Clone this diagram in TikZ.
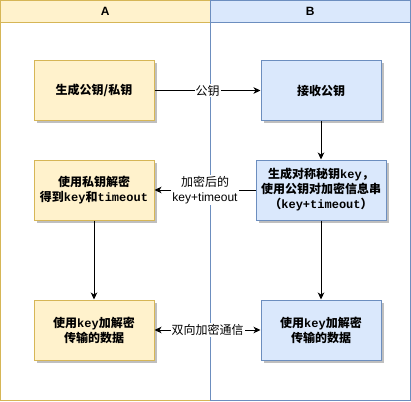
\documentclass[tikz,border=0pt]{standalone}
\usepackage{fontspec}
\setmainfont{Liberation Sans}
\setmonofont{Liberation Mono}
\newfontfamily\cjk{Noto Sans CJK SC}
\usetikzlibrary{arrows.meta,shadows}
\definecolor{yellowfill}{HTML}{FFF2CC}
\definecolor{yellowline}{HTML}{D6B656}
\definecolor{bluefill}{HTML}{DAE8FC}
\definecolor{blueline}{HTML}{6C8EBF}
\newcommand{\kw}[1]{{\ttfamily\bfseries #1}}

\begin{document}
\begin{tikzpicture}[x=1pt,y=-1pt,line width=1pt,
  font=\fontsize{12}{15}\selectfont,
  lanehead/.style={draw,minimum width=209.5pt,minimum height=22.5pt,inner sep=0pt,font=\fontsize{12}{15}\selectfont\bfseries},
  boxbase/.style={minimum width=120pt,minimum height=60pt,align=center,inner sep=2pt,
    font=\cjk\bfseries\fontsize{12}{15}\selectfont,
    drop shadow={shadow xshift=2.5pt,shadow yshift=-2.5pt,fill=black!25,opacity=1}},
  boxA/.style={boxbase,draw=yellowline,fill=yellowfill},
  boxB/.style={boxbase,draw=blueline,fill=bluefill},
  flow/.style={-{Stealth[length=7pt,width=6.5pt,inset=2pt]}},
  twoway/.style={{Stealth[length=7pt,width=6.5pt,inset=2pt]}-{Stealth[length=7pt,width=6.5pt,inset=2pt]}},
  edgelabel/.style={fill=white,inner sep=1pt,align=center,font=\fontsize{12}{14.5}\selectfont}]
  \useasboundingbox (0,0) rectangle (411,401);
  % Lane A
  \draw[yellowline] (0.5,0.5) rectangle (210,400.5);
  \node[lanehead,draw=yellowline,fill=yellowfill] (headA) at (105.25,11.75) {A};
  % Lane B
  \draw[blueline] (210,0.5) rectangle (410.5,400.5);
  \node[lanehead,draw=blueline,fill=bluefill,minimum width=200.5pt] (headB) at (310.25,11.75) {B};
  % Steps of A
  \node[boxA] (genKeys) at (94,90.5) {生成公钥/私钥};
  \node[boxA] (decrypt) at (94,190) {使用私钥解密\\得到\kw{key}和\kw{timeout}};
  \node[boxA] (dataA) at (94,330) {使用\kw{key}加解密\\传输的数据};
  % Steps of B
  \node[boxB] (recvKey) at (321,90.5) {接收公钥};
  \node[boxB,minimum width=130pt] (encrypt) at (321,190) {生成对称秘钥\kw{key}，\\使用公钥对加密信息串\\（\kw{key+timeout}）};
  \node[boxB] (dataB) at (321,330) {使用\kw{key}加解密\\传输的数据};
  % Connectors
  \draw[flow] (genKeys) -- (recvKey) node[midway,edgelabel] {\cjk 公钥};
  \draw[flow] (recvKey) -- (encrypt);
  \draw[flow] (encrypt) -- (decrypt) node[midway,edgelabel] {\cjk 加密后的\\key+timeout};
  \draw[flow] (decrypt) -- (dataA);
  \draw[flow] (encrypt) -- (dataB);
  \draw[twoway] (dataA) -- (dataB) node[midway,edgelabel] {\cjk 双向加密通信};
\end{tikzpicture}
\end{document}
